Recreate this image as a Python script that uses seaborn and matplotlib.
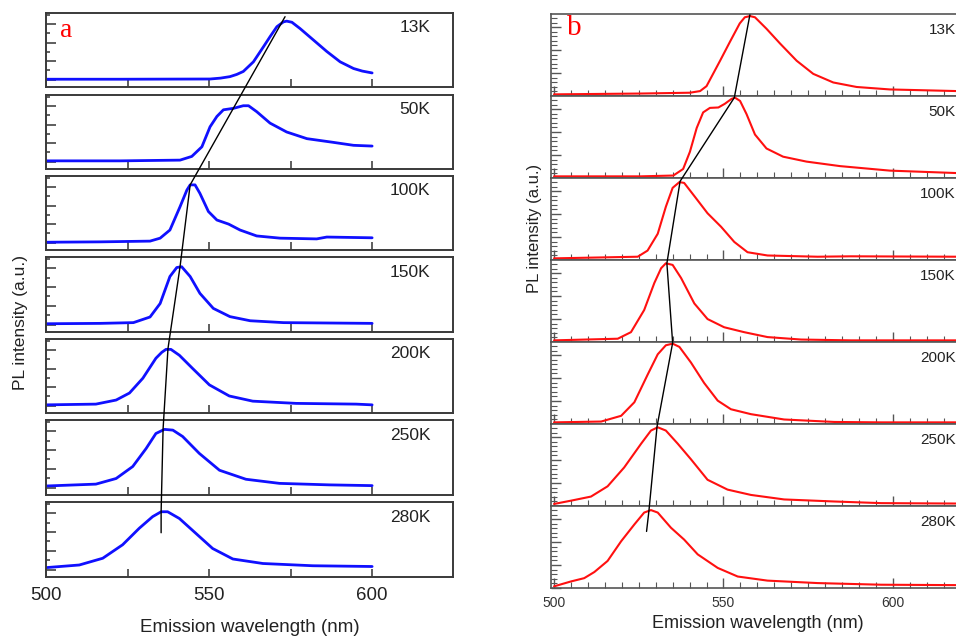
import matplotlib
matplotlib.use("Agg")
import matplotlib.pyplot as plt
import seaborn as sns
import pandas as pd
from matplotlib.lines import Line2D
from matplotlib.ticker import FixedLocator, MultipleLocator, AutoMinorLocator

# ---------------- data ----------------
temps = ["13K", "50K", "100K", "150K", "200K", "250K", "280K"]

# panel a (blue)
a13_wl = [500, 522.7, 550.3, 553.5, 556.4, 558.5, 560.5, 563.6, 566.7, 568.7, 570.8, 572.8, 573.8, 575.4, 577.9, 582, 586.1, 590.2, 594.3, 597, 600]
a13_I = [.105, .105, .108, .12, .14, .17, .21, .34, .545, .68, .815, .88, .89, .875, .79, .635, .48, .34, .25, .215, .19]
a50_wl = [500, 522.7, 541.1, 544.7, 547.8, 550.3, 552.4, 554.4, 557.5, 560.5, 562.1, 564.6, 568.7, 573.8, 580, 588.1, 594.3, 600]
a50_I = [.11, .11, .12, .17, .30, .57, .71, .80, .82, .855, .855, .775, .62, .50, .41, .36, .32, .31]
a100_wl = [500, 516.6, 531.9, 535, 538, 541.1, 543.2, 544.2, 545.7, 547.2, 549.8, 552.4, 556, 559.5, 564.6, 571.8, 583, 586.1, 600]
a100_I = [.105, .11, .12, .16, .27, .585, .81, .88, .88, .765, .52, .405, .35, .27, .19, .16, .15, .175, .165]
a150_wl = [500, 516.6, 526.8, 531.9, 535, 538, 540.1, 541.6, 544.2, 547.2, 551.3, 556.4, 562.6, 572.8, 600]
a150_I = [.11, .115, .125, .20, .38, .74, .86, .87, .74, .515, .315, .205, .15, .125, .115]
a200_wl = [500, 515.3, 521.5, 525.6, 529.7, 533.7, 535.5, 536.8, 538.3, 540.9, 545, 550.1, 556.2, 563.4, 576.7, 595.1, 600]
a200_I = [.11, .12, .175, .27, .47, .74, .82, .86, .86, .78, .60, .38, .23, .16, .13, .12, .11]
a250_wl = [500, 515.3, 521.5, 526.6, 530.7, 533.7, 536.3, 538.9, 541.9, 547, 553.2, 561.3, 571.6, 586.9, 600]
a250_I = [.12, .145, .22, .38, .62, .82, .875, .865, .78, .555, .33, .21, .155, .135, .125]
a280_wl = [500, 510.2, 517.4, 523.5, 528.6, 532.7, 535.3, 537.3, 540.9, 546, 551.1, 557.3, 566.5, 581.8, 600]
a280_I = [.125, .16, .25, .43, .65, .805, .87, .87, .78, .58, .38, .24, .18, .15, .14]

# panel b (red)
b13_wl = [500, 525.4, 540.1, 543.1, 545, 549, 551.9, 554.8, 556.3, 557.8, 559.3, 562.7, 566.7, 571.6, 576.5, 582.4, 589.3, 599.1, 619]
b13_I = [.02, .03, .04, .06, .12, .43, .66, .885, .96, .975, .96, .82, .64, .43, .27, .165, .11, .08, .06]
b50_wl = [500, 525.4, 535.2, 538.1, 540.1, 542.1, 544, 546, 548.5, 550.4, 552.4, 553.4, 554.9, 556.8, 559.3, 562.7, 567.6, 574.5, 584.4, 599.1, 619]
b50_I = [.02, .02, .03, .11, .32, .61, .80, .855, .86, .905, .965, .98, .94, .78, .53, .36, .26, .20, .145, .09, .06]
b100_wl = [500, 524.7, 527.6, 530.6, 533, 535, 537, 538.4, 541.4, 545.3, 549.3, 553.2, 557.1, 563, 577.8, 587.6, 619]
b100_I = [.02, .04, .115, .32, .65, .88, .95, .94, .78, .57, .405, .22, .095, .055, .04, .045, .04]
b150_wl = [500, 518.8, 522.7, 526.6, 529.6, 531.6, 533, 535, 537.5, 541.4, 545.3, 550.2, 556.1, 563, 572.9, 587.6, 619]
b150_I = [.02, .04, .12, .39, .72, .90, .96, .94, .78, .47, .28, .18, .12, .06, .03, .02, .02]
b200_wl = [500, 513.9, 519.8, 523.7, 527.6, 530.6, 533, 535, 537, 540.4, 544.3, 548.3, 552.2, 558.1, 567.9, 582.7, 596.5, 619]
b200_I = [.02, .03, .10, .265, .60, .85, .96, .98, .94, .75, .50, .285, .18, .12, .055, .025, .02, .02]
b250_wl = [500, 505, 510.9, 515.8, 520.7, 525.7, 528.6, 530.6, 533, 536.5, 540.4, 545.3, 551.2, 558.1, 567.9, 582.7, 596.5, 619]
b250_I = [.025, .065, .115, .24, .47, .76, .92, .96, .92, .76, .57, .32, .20, .135, .08, .055, .035, .03]
b280_wl = [500, 505, 508.9, 511.9, 515.8, 519.8, 523.7, 526.6, 528.6, 530.6, 534.5, 538.4, 542.4, 548.3, 554.2, 563, 577.8, 596.5, 619]
b280_I = [.02, .08, .12, .195, .33, .57, .775, .92, .95, .92, .735, .59, .41, .245, .14, .09, .06, .04, .035]

# peak-shift guide lines: wavelength, row index, relative height in that row
la_wl = [573.3, 544.2, 541.1, 537.4, 535.9, 535.3, 535.3]
la_row = [0, 2, 3, 4, 5, 6, 6]
la_y = [0.95, 0.88, 0.87, 0.87, 0.88, 0.87, 0.59]
lb_wl = [557.8, 553.2, 537.2, 533.3, 535.0, 530.4, 528.0, 527.3]
lb_row = [0, 1, 2, 3, 4, 5, 6, 6]
lb_y = [0.99, 0.98, 0.96, 0.96, 0.99, 0.97, 0.94, 0.69]

a_ticks = [500, 550, 600]
b_ticks = [500, 550, 600]

a_wls = [a13_wl, a50_wl, a100_wl, a150_wl, a200_wl, a250_wl, a280_wl]
a_Is = [a13_I, a50_I, a100_I, a150_I, a200_I, a250_I, a280_I]
b_wls = [b13_wl, b50_wl, b100_wl, b150_wl, b200_wl, b250_wl, b280_wl]
b_Is = [b13_I, b50_I, b100_I, b150_I, b200_I, b250_I, b280_I]

# ---------------- figure ----------------
sns.set_theme(style="ticks")
plt.rcParams["font.family"] = ["Liberation Sans", "DejaVu Sans"]
W, H = 956, 641
fig = plt.figure(figsize=(W / 100, H / 100), dpi=100)

def px_rect(x0, y0, x1, y1):
    return [x0 / W, 1 - y1 / H, (x1 - x0) / W, (y1 - y0) / H]

a_rows = [(13, 87), (95, 169), (176, 250), (257, 332), (339, 413), (420, 495), (502, 577)]
b_rows = [(14 + 82 * i, 14 + 82 * (i + 1)) for i in range(7)]

axes_a, axes_b = [], []
for i, (t, b) in enumerate(a_rows):
    ax = fig.add_axes(px_rect(46, t, 453, b))
    df = pd.DataFrame({"wl": a_wls[i], "I": a_Is[i]})
    sns.lineplot(data=df, x="wl", y="I", ax=ax, color="#1010ff", lw=2.0, sort=False)
    for ln in ax.lines:
        ln.set_solid_joinstyle("round")
    ax.set_xlim(500, 624.8)
    ax.set_ylim(0, 1)
    ax.xaxis.set_major_locator(FixedLocator(a_ticks))
    ax.xaxis.set_minor_locator(MultipleLocator(25))
    ax.yaxis.set_major_locator(FixedLocator([0.1, 0.35, 0.6, 0.85]))
    ax.yaxis.set_minor_locator(FixedLocator([0.225, 0.475, 0.725, 0.975]))
    ax.tick_params(which="both", direction="in", top=False, right=False, colors="#333333")
    ax.tick_params(which="major", length=6, width=1.1)
    ax.tick_params(which="minor", length=6, width=1.1)
    ax.tick_params(axis="y", which="minor", length=3)
    ax.tick_params(axis="y", which="major", length=7)
    ax.set_yticklabels([])
    ax.set_xlabel("")
    ax.set_ylabel("")
    for s in ax.spines.values():
        s.set_color("#3a3a3a")
        s.set_linewidth(1.4)
    if i < 6:
        ax.set_xticklabels([])
    else:
        ax.tick_params(axis="x", labelsize=13.5, pad=7, labelcolor="#222222")
    ax.text(0.945, 0.80, temps[i], transform=ax.transAxes, ha="right", va="center",
            fontsize=12.5, color="#222222")
    axes_a.append(ax)

for i, (t, b) in enumerate(b_rows):
    ax = fig.add_axes(px_rect(551, t, 962, b))
    df = pd.DataFrame({"wl": b_wls[i], "I": b_Is[i]})
    sns.lineplot(data=df, x="wl", y="I", ax=ax, color="#ff1010", lw=1.5, sort=False)
    for ln in ax.lines:
        ln.set_solid_joinstyle("round")
    ax.set_xlim(499.1, 620.4)
    ax.set_ylim(0, 1)
    ax.xaxis.set_major_locator(FixedLocator(b_ticks))
    ax.xaxis.set_minor_locator(MultipleLocator(5))
    ax.yaxis.set_major_locator(MultipleLocator(0.28))
    ax.yaxis.set_minor_locator(AutoMinorLocator(5))
    ax.tick_params(which="both", direction="in", top=False, right=False, colors="#555555")
    ax.tick_params(which="major", length=7, width=1.0)
    ax.tick_params(which="minor", length=4, width=0.8)
    ax.set_yticklabels([])
    ax.set_xlabel("")
    ax.set_ylabel("")
    for s in ax.spines.values():
        s.set_color("#555555")
        s.set_linewidth(1.2)
    if i < 6:
        ax.set_xticklabels([])
    else:
        ax.tick_params(axis="x", labelsize=10, pad=6, labelcolor="#333333")
    ax.text(0.985, 0.80, temps[i], transform=ax.transAxes, ha="right", va="center",
            fontsize=11, color="#222222")
    axes_b.append(ax)

axes_a[0].text(0.049, 0.76, "a", transform=axes_a[0].transAxes, ha="center", va="center",
               fontsize=20, color="red", family=["Liberation Serif", "DejaVu Serif"])
axes_b[0].text(0.057, 0.83, "b", transform=axes_b[0].transAxes, ha="center", va="center",
               fontsize=21, color="red", family=["Liberation Serif", "DejaVu Serif"])

# labels
fig.text(250 / W, 1 - 628 / H, "Emission wavelength (nm)", ha="center", va="center",
         fontsize=13.5, color="#222222")
fig.text(758 / W, 1 - 623 / H, "Emission wavelength (nm)", ha="center", va="center",
         fontsize=13, color="#222222")
fig.text(21 / W, 1 - 323 / H, "PL intensity (a.u.)", ha="center", va="center",
         rotation=90, fontsize=12.5, color="#222222")
fig.text(535 / W, 1 - 228 / H, "PL intensity (a.u.)", ha="center", va="center",
         rotation=90, fontsize=12, color="#222222")

# peak guide lines drawn across stacked panels
inv = fig.transFigure.inverted()
def guide(axes, wls, rows, ys):
    pts = [inv.transform(axes[r].transData.transform((w, y))) for w, y, r in zip(wls, ys, rows)]
    xs = [p[0] for p in pts]
    yy = [p[1] for p in pts]
    fig.add_artist(Line2D(xs, yy, transform=fig.transFigure, color="black", lw=1.0, zorder=10))

guide(axes_a, la_wl, la_row, la_y)
guide(axes_b, lb_wl, lb_row, lb_y)

fig.savefig("out.png", dpi=100)
